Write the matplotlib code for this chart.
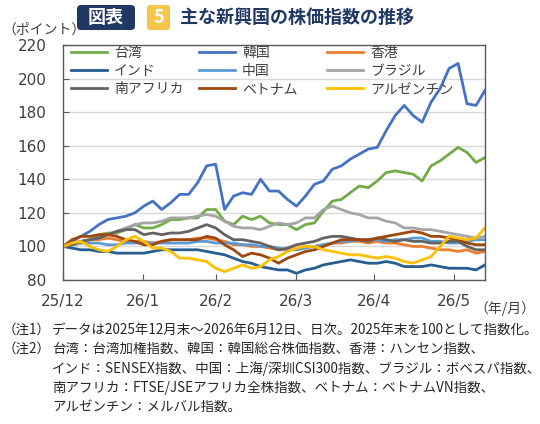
import matplotlib
matplotlib.use('Agg')
import matplotlib.pyplot as plt
from matplotlib.patches import FancyBboxPatch
import pandas as pd

plt.rcParams['font.family'] = ['Noto Sans CJK JP', 'DejaVu Sans']

# 2025年末=100、日次データを目視で読み取り（約3.5日おき）
dates = pd.date_range('2025-12-31', '2026-06-12', periods=48)

taiwan = [100, 101, 102, 104, 107, 108, 108, 110, 113, 111, 111, 113, 116, 116, 117, 117,
          122, 122, 115, 113, 118, 116, 118, 114, 113, 113, 110, 113, 114, 121, 127, 128,
          132, 136, 135, 139, 144, 145, 144, 143, 139, 148, 151, 155, 159, 156, 150, 153]
korea = [100, 103, 106, 109, 113, 116, 117, 118, 120, 124, 127, 122, 126, 131, 131, 138,
         148, 149, 122, 130, 132, 131, 140, 133, 133, 128, 124, 130, 137, 139, 146, 148,
         152, 155, 158, 159, 169, 178, 184, 178, 174, 186, 194, 206, 209, 185, 184, 193]
hongkong = [100, 102, 103, 104, 104, 105, 104, 103, 103, 103, 102, 103, 104, 104, 104, 105,
            105, 104, 103, 101, 101, 100, 100, 99, 98, 98, 99, 100, 100, 101, 102, 102,
            103, 103, 102, 103, 102, 102, 101, 100, 100, 99, 98, 98, 97, 98, 96, 97]
india = [100, 99, 98, 98, 97, 97, 96, 96, 96, 96, 97, 98, 98, 98, 98, 98,
         97, 96, 95, 93, 91, 90, 88, 87, 86, 86, 84, 86, 87, 89, 90, 91,
         92, 91, 90, 90, 91, 90, 88, 88, 88, 89, 88, 87, 87, 87, 86, 89]
china = [100, 101, 102, 102, 102, 101, 101, 102, 102, 102, 102, 102, 102, 102, 102, 103,
         103, 102, 102, 102, 101, 101, 100, 100, 99, 98, 98, 99, 100, 101, 102, 103,
         103, 104, 104, 104, 103, 104, 104, 105, 105, 103, 103, 102, 102, 103, 104, 104]
brazil = [100, 101, 102, 104, 106, 107, 109, 111, 113, 114, 114, 115, 117, 117, 117, 118,
          119, 118, 115, 112, 111, 111, 110, 112, 114, 113, 114, 117, 117, 122, 124, 122,
          120, 119, 117, 117, 115, 114, 111, 111, 110, 110, 109, 108, 107, 106, 105, 106]
safrica = [100, 101, 103, 104, 105, 107, 109, 110, 110, 107, 108, 107, 108, 108, 109, 111,
           113, 111, 107, 104, 104, 103, 102, 100, 98, 99, 101, 102, 103, 105, 106, 106,
           105, 104, 103, 105, 104, 103, 104, 103, 103, 102, 102, 103, 103, 100, 98, 98]
vietnam = [100, 104, 106, 106, 107, 107, 106, 104, 103, 101, 101, 103, 104, 104, 104, 104,
           106, 105, 101, 98, 94, 96, 95, 93, 90, 93, 95, 97, 98, 100, 102, 104,
           104, 104, 104, 105, 106, 107, 108, 109, 108, 106, 106, 105, 104, 102, 101, 101]
argentina = [100, 102, 103, 100, 98, 97, 100, 104, 106, 103, 99, 99, 97, 93, 93, 92,
             91, 87, 85, 87, 89, 87, 88, 92, 94, 97, 99, 100, 100, 98, 97, 96,
             95, 95, 94, 93, 94, 93, 91, 90, 92, 94, 100, 106, 105, 104, 105, 111]

names = ['台湾', '韓国', '香港', 'インド', '中国', 'ブラジル', '南アフリカ', 'ベトナム', 'アルゼンチン']
series = [taiwan, korea, hongkong, india, china, brazil, safrica, vietnam, argentina]
colors = ['#70AD47', '#4472C4', '#ED7D31', '#255E91', '#5B9BD5', '#A5A5A5', '#636363', '#9E480E', '#FFC000']

tick_dates = pd.to_datetime(['2025-12-31', '2026-01-31', '2026-02-28', '2026-03-31', '2026-04-30', '2026-05-31'])
tick_labels = ['25/12', '26/1', '26/2', '26/3', '26/4', '26/5']

W, H = 540, 424
fig = plt.figure(figsize=(W / 100, H / 100), dpi=100)
ax = fig.add_axes([63 / W, 1 - 280 / H, (485 - 63) / W, (280 - 45) / H])

lines = []
for name, vals, c in zip(names, series, colors):
    ln, = ax.plot(dates, vals, color=c, lw=2, label=name)
    lines.append(ln)

ax.set_xlim(dates[0], dates[-1])
ax.set_ylim(80, 220)
ax.set_yticks(range(80, 221, 20))
ax.set_xticks(tick_dates)
ax.set_xticklabels(tick_labels)
ax.grid(axis='y', color='#D9D9D9', lw=1)
ax.set_axisbelow(True)
for sp in ax.spines.values():
    sp.set_color('#595959')
    sp.set_linewidth(1)
ax.tick_params(direction='in', length=4, color='#595959', labelcolor='#404040', labelsize=11)
ax.tick_params(axis='y', pad=12)
ax.tick_params(axis='x', pad=10)
for lbl in ax.get_xticklabels() + ax.get_yticklabels():
    lbl.set_fontfamily('DejaVu Sans')

# 凡例：3列を等間隔に
col_x = [0.019, 0.322, 0.626]
for k in range(3):
    hs = [lines[k], lines[k + 3], lines[k + 6]]
    leg = ax.legend(hs, [h.get_label() for h in hs], loc='upper left',
                    bbox_to_anchor=(col_x[k], 0.995), frameon=False, fontsize=10,
                    handlelength=2.6, handletextpad=0.5, labelspacing=0.28,
                    borderpad=0, borderaxespad=0, labelcolor='#404040')
    if k < 2:
        ax.add_artist(leg)

# タイトル帯
inch = fig.dpi_scale_trans
fig.add_artist(FancyBboxPatch((77 / 100, (H - 30) / 100), 58 / 100, 25 / 100,
                              boxstyle='round,pad=0,rounding_size=0.04',
                              fc='#203864', ec='none', transform=inch))
fig.add_artist(FancyBboxPatch((147 / 100, (H - 30) / 100), 23 / 100, 25 / 100,
                              boxstyle='round,pad=0,rounding_size=0.03',
                              fc='#F7C54A', ec='none', transform=inch))
fig.text(106 / W, 1 - 17.5 / H, '図表', color='white', fontsize=13, fontweight='bold',
         ha='center', va='center')
fig.text(158.5 / W, 1 - 17.5 / H, '5', color='white', fontsize=13, fontweight='bold',
         ha='center', va='center')
fig.text(180 / W, 1 - 17 / H, '主な新興国の株価指数の推移', color='#203864', fontsize=13,
         fontweight='bold', ha='left', va='center')

fig.text(2 / W, 1 - 30 / H, '（ポイント）', color='#404040', fontsize=10, ha='left', va='center')
fig.text(474 / W, 1 - 309 / H, '（年/月）', color='#404040', fontsize=10, ha='left', va='center')

notes = [
    (3, 330, '（注1）'),
    (52, 330, 'データは2025年12月末～2026年6月12日、日次。2025年末を100として指数化。'),
    (3, 349, '（注2）'),
    (52, 349, '台湾：台湾加権指数、韓国：韓国総合株価指数、香港：ハンセン指数、'),
    (52, 369, 'インド：SENSEX指数、中国：上海/深圳CSI300指数、ブラジル：ボベスパ指数、'),
    (52, 388, '南アフリカ：FTSE/JSEアフリカ全株指数、ベトナム：ベトナムVN指数、'),
    (52, 407, 'アルゼンチン：メルバル指数。'),
]
for x, y, s in notes:
    fig.text(x / W, 1 - y / H, s, color='#262626', fontsize=9.7, ha='left', va='center')

fig.savefig('out.png', dpi=100)
